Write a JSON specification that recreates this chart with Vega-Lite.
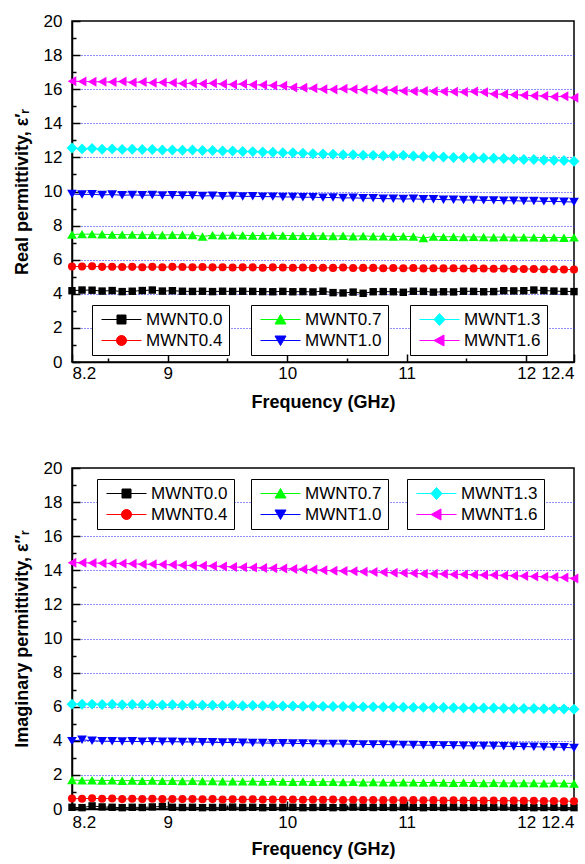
{
  "$schema": "https://vega.github.io/schema/vega-lite/v6.json",
  "padding": {"left": 12, "top": 11, "right": 0, "bottom": 0},
  "spacing": 46,
  "datasets": {
    "real": [
      {"s":"MWNT0.0","f":8.2,"v":4.18},{"s":"MWNT0.0","f":8.284,"v":4.22},{"s":"MWNT0.0","f":8.368,"v":4.21},{"s":"MWNT0.0","f":8.452,"v":4.16},{"s":"MWNT0.0","f":8.536,"v":4.19},{"s":"MWNT0.0","f":8.62,"v":4.13},{"s":"MWNT0.0","f":8.704,"v":4.15},{"s":"MWNT0.0","f":8.788,"v":4.19},{"s":"MWNT0.0","f":8.872,"v":4.22},{"s":"MWNT0.0","f":8.956,"v":4.16},
      {"s":"MWNT0.0","f":9.04,"v":4.18},{"s":"MWNT0.0","f":9.124,"v":4.15},{"s":"MWNT0.0","f":9.208,"v":4.14},{"s":"MWNT0.0","f":9.292,"v":4.15},{"s":"MWNT0.0","f":9.376,"v":4.13},{"s":"MWNT0.0","f":9.46,"v":4.15},{"s":"MWNT0.0","f":9.544,"v":4.14},{"s":"MWNT0.0","f":9.628,"v":4.15},{"s":"MWNT0.0","f":9.712,"v":4.14},{"s":"MWNT0.0","f":9.796,"v":4.13},
      {"s":"MWNT0.0","f":9.88,"v":4.12},{"s":"MWNT0.0","f":9.964,"v":4.14},{"s":"MWNT0.0","f":10.048,"v":4.12},{"s":"MWNT0.0","f":10.132,"v":4.13},{"s":"MWNT0.0","f":10.216,"v":4.11},{"s":"MWNT0.0","f":10.3,"v":4.15},{"s":"MWNT0.0","f":10.384,"v":4.07},{"s":"MWNT0.0","f":10.468,"v":4.05},{"s":"MWNT0.0","f":10.552,"v":4.1},{"s":"MWNT0.0","f":10.636,"v":4.03},
      {"s":"MWNT0.0","f":10.72,"v":4.12},{"s":"MWNT0.0","f":10.804,"v":4.13},{"s":"MWNT0.0","f":10.888,"v":4.12},{"s":"MWNT0.0","f":10.972,"v":4.09},{"s":"MWNT0.0","f":11.056,"v":4.15},{"s":"MWNT0.0","f":11.14,"v":4.14},{"s":"MWNT0.0","f":11.224,"v":4.1},{"s":"MWNT0.0","f":11.308,"v":4.12},{"s":"MWNT0.0","f":11.392,"v":4.11},{"s":"MWNT0.0","f":11.476,"v":4.15},
      {"s":"MWNT0.0","f":11.56,"v":4.14},{"s":"MWNT0.0","f":11.644,"v":4.12},{"s":"MWNT0.0","f":11.728,"v":4.13},{"s":"MWNT0.0","f":11.812,"v":4.18},{"s":"MWNT0.0","f":11.896,"v":4.17},{"s":"MWNT0.0","f":11.98,"v":4.18},{"s":"MWNT0.0","f":12.064,"v":4.22},{"s":"MWNT0.0","f":12.148,"v":4.19},{"s":"MWNT0.0","f":12.232,"v":4.16},{"s":"MWNT0.0","f":12.316,"v":4.14},{"s":"MWNT0.0","f":12.4,"v":4.13},

      {"s":"MWNT0.4","f":8.2,"v":5.6},{"s":"MWNT0.4","f":8.284,"v":5.6},{"s":"MWNT0.4","f":8.368,"v":5.62},{"s":"MWNT0.4","f":8.452,"v":5.58},{"s":"MWNT0.4","f":8.536,"v":5.59},{"s":"MWNT0.4","f":8.62,"v":5.57},{"s":"MWNT0.4","f":8.704,"v":5.58},{"s":"MWNT0.4","f":8.788,"v":5.56},{"s":"MWNT0.4","f":8.872,"v":5.58},{"s":"MWNT0.4","f":8.956,"v":5.56},
      {"s":"MWNT0.4","f":9.04,"v":5.58},{"s":"MWNT0.4","f":9.124,"v":5.57},{"s":"MWNT0.4","f":9.208,"v":5.56},{"s":"MWNT0.4","f":9.292,"v":5.57},{"s":"MWNT0.4","f":9.376,"v":5.55},{"s":"MWNT0.4","f":9.46,"v":5.56},{"s":"MWNT0.4","f":9.544,"v":5.54},{"s":"MWNT0.4","f":9.628,"v":5.55},{"s":"MWNT0.4","f":9.712,"v":5.55},{"s":"MWNT0.4","f":9.796,"v":5.53},
      {"s":"MWNT0.4","f":9.88,"v":5.55},{"s":"MWNT0.4","f":9.964,"v":5.54},{"s":"MWNT0.4","f":10.048,"v":5.53},{"s":"MWNT0.4","f":10.132,"v":5.54},{"s":"MWNT0.4","f":10.216,"v":5.52},{"s":"MWNT0.4","f":10.3,"v":5.53},{"s":"MWNT0.4","f":10.384,"v":5.52},{"s":"MWNT0.4","f":10.468,"v":5.54},{"s":"MWNT0.4","f":10.552,"v":5.51},{"s":"MWNT0.4","f":10.636,"v":5.52},
      {"s":"MWNT0.4","f":10.72,"v":5.52},{"s":"MWNT0.4","f":10.804,"v":5.5},{"s":"MWNT0.4","f":10.888,"v":5.51},{"s":"MWNT0.4","f":10.972,"v":5.5},{"s":"MWNT0.4","f":11.056,"v":5.51},{"s":"MWNT0.4","f":11.14,"v":5.49},{"s":"MWNT0.4","f":11.224,"v":5.5},{"s":"MWNT0.4","f":11.308,"v":5.49},{"s":"MWNT0.4","f":11.392,"v":5.5},{"s":"MWNT0.4","f":11.476,"v":5.48},
      {"s":"MWNT0.4","f":11.56,"v":5.49},{"s":"MWNT0.4","f":11.644,"v":5.48},{"s":"MWNT0.4","f":11.728,"v":5.47},{"s":"MWNT0.4","f":11.812,"v":5.48},{"s":"MWNT0.4","f":11.896,"v":5.46},{"s":"MWNT0.4","f":11.98,"v":5.46},{"s":"MWNT0.4","f":12.064,"v":5.45},{"s":"MWNT0.4","f":12.148,"v":5.44},{"s":"MWNT0.4","f":12.232,"v":5.44},{"s":"MWNT0.4","f":12.316,"v":5.43},{"s":"MWNT0.4","f":12.4,"v":5.42},

      {"s":"MWNT0.7","f":8.2,"v":7.48},{"s":"MWNT0.7","f":8.284,"v":7.5},{"s":"MWNT0.7","f":8.368,"v":7.5},{"s":"MWNT0.7","f":8.452,"v":7.49},{"s":"MWNT0.7","f":8.536,"v":7.47},{"s":"MWNT0.7","f":8.62,"v":7.47},{"s":"MWNT0.7","f":8.704,"v":7.47},{"s":"MWNT0.7","f":8.788,"v":7.46},{"s":"MWNT0.7","f":8.872,"v":7.46},{"s":"MWNT0.7","f":8.956,"v":7.45},
      {"s":"MWNT0.7","f":9.04,"v":7.46},{"s":"MWNT0.7","f":9.124,"v":7.46},{"s":"MWNT0.7","f":9.208,"v":7.45},{"s":"MWNT0.7","f":9.292,"v":7.36},{"s":"MWNT0.7","f":9.376,"v":7.44},{"s":"MWNT0.7","f":9.46,"v":7.43},{"s":"MWNT0.7","f":9.544,"v":7.44},{"s":"MWNT0.7","f":9.628,"v":7.43},{"s":"MWNT0.7","f":9.712,"v":7.42},{"s":"MWNT0.7","f":9.796,"v":7.42},
      {"s":"MWNT0.7","f":9.88,"v":7.43},{"s":"MWNT0.7","f":9.964,"v":7.42},{"s":"MWNT0.7","f":10.048,"v":7.41},{"s":"MWNT0.7","f":10.132,"v":7.41},{"s":"MWNT0.7","f":10.216,"v":7.4},{"s":"MWNT0.7","f":10.3,"v":7.4},{"s":"MWNT0.7","f":10.384,"v":7.39},{"s":"MWNT0.7","f":10.468,"v":7.4},{"s":"MWNT0.7","f":10.552,"v":7.38},{"s":"MWNT0.7","f":10.636,"v":7.39},
      {"s":"MWNT0.7","f":10.72,"v":7.37},{"s":"MWNT0.7","f":10.804,"v":7.38},{"s":"MWNT0.7","f":10.888,"v":7.36},{"s":"MWNT0.7","f":10.972,"v":7.37},{"s":"MWNT0.7","f":11.056,"v":7.36},{"s":"MWNT0.7","f":11.14,"v":7.27},{"s":"MWNT0.7","f":11.224,"v":7.36},{"s":"MWNT0.7","f":11.308,"v":7.34},{"s":"MWNT0.7","f":11.392,"v":7.35},{"s":"MWNT0.7","f":11.476,"v":7.33},
      {"s":"MWNT0.7","f":11.56,"v":7.34},{"s":"MWNT0.7","f":11.644,"v":7.33},{"s":"MWNT0.7","f":11.728,"v":7.32},{"s":"MWNT0.7","f":11.812,"v":7.33},{"s":"MWNT0.7","f":11.896,"v":7.32},{"s":"MWNT0.7","f":11.98,"v":7.32},{"s":"MWNT0.7","f":12.064,"v":7.31},{"s":"MWNT0.7","f":12.148,"v":7.3},{"s":"MWNT0.7","f":12.232,"v":7.31},{"s":"MWNT0.7","f":12.316,"v":7.29},{"s":"MWNT0.7","f":12.4,"v":7.31},

      {"s":"MWNT1.0","f":8.2,"v":9.85},{"s":"MWNT1.0","f":8.284,"v":9.82},{"s":"MWNT1.0","f":8.368,"v":9.84},{"s":"MWNT1.0","f":8.452,"v":9.8},{"s":"MWNT1.0","f":8.536,"v":9.82},{"s":"MWNT1.0","f":8.62,"v":9.78},{"s":"MWNT1.0","f":8.704,"v":9.8},{"s":"MWNT1.0","f":8.788,"v":9.78},{"s":"MWNT1.0","f":8.872,"v":9.79},{"s":"MWNT1.0","f":8.956,"v":9.77},
      {"s":"MWNT1.0","f":9.04,"v":9.78},{"s":"MWNT1.0","f":9.124,"v":9.76},{"s":"MWNT1.0","f":9.208,"v":9.77},{"s":"MWNT1.0","f":9.292,"v":9.74},{"s":"MWNT1.0","f":9.376,"v":9.75},{"s":"MWNT1.0","f":9.46,"v":9.72},{"s":"MWNT1.0","f":9.544,"v":9.74},{"s":"MWNT1.0","f":9.628,"v":9.71},{"s":"MWNT1.0","f":9.712,"v":9.72},{"s":"MWNT1.0","f":9.796,"v":9.7},
      {"s":"MWNT1.0","f":9.88,"v":9.7},{"s":"MWNT1.0","f":9.964,"v":9.68},{"s":"MWNT1.0","f":10.048,"v":9.68},{"s":"MWNT1.0","f":10.132,"v":9.66},{"s":"MWNT1.0","f":10.216,"v":9.67},{"s":"MWNT1.0","f":10.3,"v":9.64},{"s":"MWNT1.0","f":10.384,"v":9.65},{"s":"MWNT1.0","f":10.468,"v":9.62},{"s":"MWNT1.0","f":10.552,"v":9.63},{"s":"MWNT1.0","f":10.636,"v":9.6},
      {"s":"MWNT1.0","f":10.72,"v":9.61},{"s":"MWNT1.0","f":10.804,"v":9.58},{"s":"MWNT1.0","f":10.888,"v":9.58},{"s":"MWNT1.0","f":10.972,"v":9.56},{"s":"MWNT1.0","f":11.056,"v":9.57},{"s":"MWNT1.0","f":11.14,"v":9.54},{"s":"MWNT1.0","f":11.224,"v":9.55},{"s":"MWNT1.0","f":11.308,"v":9.52},{"s":"MWNT1.0","f":11.392,"v":9.52},{"s":"MWNT1.0","f":11.476,"v":9.5},
      {"s":"MWNT1.0","f":11.56,"v":9.5},{"s":"MWNT1.0","f":11.644,"v":9.48},{"s":"MWNT1.0","f":11.728,"v":9.48},{"s":"MWNT1.0","f":11.812,"v":9.46},{"s":"MWNT1.0","f":11.896,"v":9.46},{"s":"MWNT1.0","f":11.98,"v":9.44},{"s":"MWNT1.0","f":12.064,"v":9.44},{"s":"MWNT1.0","f":12.148,"v":9.42},{"s":"MWNT1.0","f":12.232,"v":9.42},{"s":"MWNT1.0","f":12.316,"v":9.4},{"s":"MWNT1.0","f":12.4,"v":9.38},

      {"s":"MWNT1.3","f":8.2,"v":12.55},{"s":"MWNT1.3","f":8.284,"v":12.5},{"s":"MWNT1.3","f":8.368,"v":12.52},{"s":"MWNT1.3","f":8.452,"v":12.48},{"s":"MWNT1.3","f":8.536,"v":12.5},{"s":"MWNT1.3","f":8.62,"v":12.47},{"s":"MWNT1.3","f":8.704,"v":12.48},{"s":"MWNT1.3","f":8.788,"v":12.46},{"s":"MWNT1.3","f":8.872,"v":12.46},{"s":"MWNT1.3","f":8.956,"v":12.44},
      {"s":"MWNT1.3","f":9.04,"v":12.44},{"s":"MWNT1.3","f":9.124,"v":12.42},{"s":"MWNT1.3","f":9.208,"v":12.43},{"s":"MWNT1.3","f":9.292,"v":12.4},{"s":"MWNT1.3","f":9.376,"v":12.4},{"s":"MWNT1.3","f":9.46,"v":12.37},{"s":"MWNT1.3","f":9.544,"v":12.38},{"s":"MWNT1.3","f":9.628,"v":12.35},{"s":"MWNT1.3","f":9.712,"v":12.34},{"s":"MWNT1.3","f":9.796,"v":12.32},
      {"s":"MWNT1.3","f":9.88,"v":12.3},{"s":"MWNT1.3","f":9.964,"v":12.28},{"s":"MWNT1.3","f":10.048,"v":12.27},{"s":"MWNT1.3","f":10.132,"v":12.25},{"s":"MWNT1.3","f":10.216,"v":12.22},{"s":"MWNT1.3","f":10.3,"v":12.2},{"s":"MWNT1.3","f":10.384,"v":12.18},{"s":"MWNT1.3","f":10.468,"v":12.16},{"s":"MWNT1.3","f":10.552,"v":12.16},{"s":"MWNT1.3","f":10.636,"v":12.13},
      {"s":"MWNT1.3","f":10.72,"v":12.12},{"s":"MWNT1.3","f":10.804,"v":12.1},{"s":"MWNT1.3","f":10.888,"v":12.1},{"s":"MWNT1.3","f":10.972,"v":12.12},{"s":"MWNT1.3","f":11.056,"v":12.08},{"s":"MWNT1.3","f":11.14,"v":12.05},{"s":"MWNT1.3","f":11.224,"v":12.05},{"s":"MWNT1.3","f":11.308,"v":12.02},{"s":"MWNT1.3","f":11.392,"v":12},{"s":"MWNT1.3","f":11.476,"v":12},
      {"s":"MWNT1.3","f":11.56,"v":11.98},{"s":"MWNT1.3","f":11.644,"v":11.96},{"s":"MWNT1.3","f":11.728,"v":11.95},{"s":"MWNT1.3","f":11.812,"v":11.93},{"s":"MWNT1.3","f":11.896,"v":11.9},{"s":"MWNT1.3","f":11.98,"v":11.88},{"s":"MWNT1.3","f":12.064,"v":11.88},{"s":"MWNT1.3","f":12.148,"v":11.85},{"s":"MWNT1.3","f":12.232,"v":11.83},{"s":"MWNT1.3","f":12.316,"v":11.82},{"s":"MWNT1.3","f":12.4,"v":11.78},

      {"s":"MWNT1.6","f":8.2,"v":16.47},{"s":"MWNT1.6","f":8.284,"v":16.45},{"s":"MWNT1.6","f":8.368,"v":16.44},{"s":"MWNT1.6","f":8.452,"v":16.43},{"s":"MWNT1.6","f":8.536,"v":16.42},{"s":"MWNT1.6","f":8.62,"v":16.45},{"s":"MWNT1.6","f":8.704,"v":16.4},{"s":"MWNT1.6","f":8.788,"v":16.42},{"s":"MWNT1.6","f":8.872,"v":16.38},{"s":"MWNT1.6","f":8.956,"v":16.4},
      {"s":"MWNT1.6","f":9.04,"v":16.38},{"s":"MWNT1.6","f":9.124,"v":16.33},{"s":"MWNT1.6","f":9.208,"v":16.35},{"s":"MWNT1.6","f":9.292,"v":16.32},{"s":"MWNT1.6","f":9.376,"v":16.35},{"s":"MWNT1.6","f":9.46,"v":16.3},{"s":"MWNT1.6","f":9.544,"v":16.28},{"s":"MWNT1.6","f":9.628,"v":16.3},{"s":"MWNT1.6","f":9.712,"v":16.26},{"s":"MWNT1.6","f":9.796,"v":16.25},
      {"s":"MWNT1.6","f":9.88,"v":16.22},{"s":"MWNT1.6","f":9.964,"v":16.2},{"s":"MWNT1.6","f":10.048,"v":16.1},{"s":"MWNT1.6","f":10.132,"v":16.08},{"s":"MWNT1.6","f":10.216,"v":16.05},{"s":"MWNT1.6","f":10.3,"v":16},{"s":"MWNT1.6","f":10.384,"v":15.98},{"s":"MWNT1.6","f":10.468,"v":16.02},{"s":"MWNT1.6","f":10.552,"v":16},{"s":"MWNT1.6","f":10.636,"v":15.97},
      {"s":"MWNT1.6","f":10.72,"v":15.98},{"s":"MWNT1.6","f":10.804,"v":15.93},{"s":"MWNT1.6","f":10.888,"v":15.95},{"s":"MWNT1.6","f":10.972,"v":15.9},{"s":"MWNT1.6","f":11.056,"v":15.88},{"s":"MWNT1.6","f":11.14,"v":15.9},{"s":"MWNT1.6","f":11.224,"v":15.88},{"s":"MWNT1.6","f":11.308,"v":15.86},{"s":"MWNT1.6","f":11.392,"v":15.85},{"s":"MWNT1.6","f":11.476,"v":15.84},
      {"s":"MWNT1.6","f":11.56,"v":15.86},{"s":"MWNT1.6","f":11.644,"v":15.82},{"s":"MWNT1.6","f":11.728,"v":15.72},{"s":"MWNT1.6","f":11.812,"v":15.7},{"s":"MWNT1.6","f":11.896,"v":15.68},{"s":"MWNT1.6","f":11.98,"v":15.65},{"s":"MWNT1.6","f":12.064,"v":15.62},{"s":"MWNT1.6","f":12.148,"v":15.6},{"s":"MWNT1.6","f":12.232,"v":15.55},{"s":"MWNT1.6","f":12.316,"v":15.58},{"s":"MWNT1.6","f":12.4,"v":15.5}
    ],
    "imag": [
      {"s":"MWNT0.0","f":8.2,"v":0.1},{"s":"MWNT0.0","f":8.284,"v":0.08},{"s":"MWNT0.0","f":8.368,"v":0.18},{"s":"MWNT0.0","f":8.452,"v":0.12},{"s":"MWNT0.0","f":8.536,"v":0.1},{"s":"MWNT0.0","f":8.62,"v":0.08},{"s":"MWNT0.0","f":8.704,"v":0.1},{"s":"MWNT0.0","f":8.788,"v":0.09},{"s":"MWNT0.0","f":8.872,"v":0.12},{"s":"MWNT0.0","f":8.956,"v":0.15},
      {"s":"MWNT0.0","f":9.04,"v":0.1},{"s":"MWNT0.0","f":9.124,"v":0.09},{"s":"MWNT0.0","f":9.208,"v":0.1},{"s":"MWNT0.0","f":9.292,"v":0.08},{"s":"MWNT0.0","f":9.376,"v":0.09},{"s":"MWNT0.0","f":9.46,"v":0.1},{"s":"MWNT0.0","f":9.544,"v":0.11},{"s":"MWNT0.0","f":9.628,"v":0.09},{"s":"MWNT0.0","f":9.712,"v":0.1},{"s":"MWNT0.0","f":9.796,"v":0.08},
      {"s":"MWNT0.0","f":9.88,"v":0.1},{"s":"MWNT0.0","f":9.964,"v":0.09},{"s":"MWNT0.0","f":10.048,"v":0.1},{"s":"MWNT0.0","f":10.132,"v":0.08},{"s":"MWNT0.0","f":10.216,"v":0.09},{"s":"MWNT0.0","f":10.3,"v":0.1},{"s":"MWNT0.0","f":10.384,"v":0.08},{"s":"MWNT0.0","f":10.468,"v":0.09},{"s":"MWNT0.0","f":10.552,"v":0.11},{"s":"MWNT0.0","f":10.636,"v":0.1},
      {"s":"MWNT0.0","f":10.72,"v":0.09},{"s":"MWNT0.0","f":10.804,"v":0.1},{"s":"MWNT0.0","f":10.888,"v":0.09},{"s":"MWNT0.0","f":10.972,"v":0.11},{"s":"MWNT0.0","f":11.056,"v":0.1},{"s":"MWNT0.0","f":11.14,"v":0.08},{"s":"MWNT0.0","f":11.224,"v":0.1},{"s":"MWNT0.0","f":11.308,"v":0.09},{"s":"MWNT0.0","f":11.392,"v":0.11},{"s":"MWNT0.0","f":11.476,"v":0.09},
      {"s":"MWNT0.0","f":11.56,"v":0.1},{"s":"MWNT0.0","f":11.644,"v":0.09},{"s":"MWNT0.0","f":11.728,"v":0.1},{"s":"MWNT0.0","f":11.812,"v":0.11},{"s":"MWNT0.0","f":11.896,"v":0.09},{"s":"MWNT0.0","f":11.98,"v":0.1},{"s":"MWNT0.0","f":12.064,"v":0.08},{"s":"MWNT0.0","f":12.148,"v":0.09},{"s":"MWNT0.0","f":12.232,"v":0.1},{"s":"MWNT0.0","f":12.316,"v":0.09},{"s":"MWNT0.0","f":12.4,"v":0.08},

      {"s":"MWNT0.4","f":8.2,"v":0.62},{"s":"MWNT0.4","f":8.284,"v":0.6},{"s":"MWNT0.4","f":8.368,"v":0.63},{"s":"MWNT0.4","f":8.452,"v":0.6},{"s":"MWNT0.4","f":8.536,"v":0.62},{"s":"MWNT0.4","f":8.62,"v":0.58},{"s":"MWNT0.4","f":8.704,"v":0.6},{"s":"MWNT0.4","f":8.788,"v":0.59},{"s":"MWNT0.4","f":8.872,"v":0.6},{"s":"MWNT0.4","f":8.956,"v":0.58},
      {"s":"MWNT0.4","f":9.04,"v":0.59},{"s":"MWNT0.4","f":9.124,"v":0.58},{"s":"MWNT0.4","f":9.208,"v":0.59},{"s":"MWNT0.4","f":9.292,"v":0.57},{"s":"MWNT0.4","f":9.376,"v":0.58},{"s":"MWNT0.4","f":9.46,"v":0.56},{"s":"MWNT0.4","f":9.544,"v":0.57},{"s":"MWNT0.4","f":9.628,"v":0.56},{"s":"MWNT0.4","f":9.712,"v":0.57},{"s":"MWNT0.4","f":9.796,"v":0.55},
      {"s":"MWNT0.4","f":9.88,"v":0.56},{"s":"MWNT0.4","f":9.964,"v":0.55},{"s":"MWNT0.4","f":10.048,"v":0.56},{"s":"MWNT0.4","f":10.132,"v":0.54},{"s":"MWNT0.4","f":10.216,"v":0.55},{"s":"MWNT0.4","f":10.3,"v":0.54},{"s":"MWNT0.4","f":10.384,"v":0.55},{"s":"MWNT0.4","f":10.468,"v":0.53},{"s":"MWNT0.4","f":10.552,"v":0.54},{"s":"MWNT0.4","f":10.636,"v":0.53},
      {"s":"MWNT0.4","f":10.72,"v":0.53},{"s":"MWNT0.4","f":10.804,"v":0.52},{"s":"MWNT0.4","f":10.888,"v":0.53},{"s":"MWNT0.4","f":10.972,"v":0.51},{"s":"MWNT0.4","f":11.056,"v":0.52},{"s":"MWNT0.4","f":11.14,"v":0.51},{"s":"MWNT0.4","f":11.224,"v":0.52},{"s":"MWNT0.4","f":11.308,"v":0.5},{"s":"MWNT0.4","f":11.392,"v":0.51},{"s":"MWNT0.4","f":11.476,"v":0.5},
      {"s":"MWNT0.4","f":11.56,"v":0.5},{"s":"MWNT0.4","f":11.644,"v":0.49},{"s":"MWNT0.4","f":11.728,"v":0.5},{"s":"MWNT0.4","f":11.812,"v":0.48},{"s":"MWNT0.4","f":11.896,"v":0.49},{"s":"MWNT0.4","f":11.98,"v":0.48},{"s":"MWNT0.4","f":12.064,"v":0.48},{"s":"MWNT0.4","f":12.148,"v":0.47},{"s":"MWNT0.4","f":12.232,"v":0.47},{"s":"MWNT0.4","f":12.316,"v":0.46},{"s":"MWNT0.4","f":12.4,"v":0.46},

      {"s":"MWNT0.7","f":8.2,"v":1.7},{"s":"MWNT0.7","f":8.284,"v":1.68},{"s":"MWNT0.7","f":8.368,"v":1.69},{"s":"MWNT0.7","f":8.452,"v":1.67},{"s":"MWNT0.7","f":8.536,"v":1.68},{"s":"MWNT0.7","f":8.62,"v":1.66},{"s":"MWNT0.7","f":8.704,"v":1.67},{"s":"MWNT0.7","f":8.788,"v":1.66},{"s":"MWNT0.7","f":8.872,"v":1.67},{"s":"MWNT0.7","f":8.956,"v":1.65},
      {"s":"MWNT0.7","f":9.04,"v":1.66},{"s":"MWNT0.7","f":9.124,"v":1.64},{"s":"MWNT0.7","f":9.208,"v":1.65},{"s":"MWNT0.7","f":9.292,"v":1.64},{"s":"MWNT0.7","f":9.376,"v":1.64},{"s":"MWNT0.7","f":9.46,"v":1.63},{"s":"MWNT0.7","f":9.544,"v":1.63},{"s":"MWNT0.7","f":9.628,"v":1.62},{"s":"MWNT0.7","f":9.712,"v":1.63},{"s":"MWNT0.7","f":9.796,"v":1.61},
      {"s":"MWNT0.7","f":9.88,"v":1.62},{"s":"MWNT0.7","f":9.964,"v":1.61},{"s":"MWNT0.7","f":10.048,"v":1.6},{"s":"MWNT0.7","f":10.132,"v":1.61},{"s":"MWNT0.7","f":10.216,"v":1.59},{"s":"MWNT0.7","f":10.3,"v":1.6},{"s":"MWNT0.7","f":10.384,"v":1.59},{"s":"MWNT0.7","f":10.468,"v":1.58},{"s":"MWNT0.7","f":10.552,"v":1.59},{"s":"MWNT0.7","f":10.636,"v":1.57},
      {"s":"MWNT0.7","f":10.72,"v":1.58},{"s":"MWNT0.7","f":10.804,"v":1.57},{"s":"MWNT0.7","f":10.888,"v":1.56},{"s":"MWNT0.7","f":10.972,"v":1.57},{"s":"MWNT0.7","f":11.056,"v":1.56},{"s":"MWNT0.7","f":11.14,"v":1.55},{"s":"MWNT0.7","f":11.224,"v":1.56},{"s":"MWNT0.7","f":11.308,"v":1.55},{"s":"MWNT0.7","f":11.392,"v":1.54},{"s":"MWNT0.7","f":11.476,"v":1.55},
      {"s":"MWNT0.7","f":11.56,"v":1.54},{"s":"MWNT0.7","f":11.644,"v":1.53},{"s":"MWNT0.7","f":11.728,"v":1.54},{"s":"MWNT0.7","f":11.812,"v":1.53},{"s":"MWNT0.7","f":11.896,"v":1.52},{"s":"MWNT0.7","f":11.98,"v":1.53},{"s":"MWNT0.7","f":12.064,"v":1.52},{"s":"MWNT0.7","f":12.148,"v":1.51},{"s":"MWNT0.7","f":12.232,"v":1.52},{"s":"MWNT0.7","f":12.316,"v":1.51},{"s":"MWNT0.7","f":12.4,"v":1.5},

      {"s":"MWNT1.0","f":8.2,"v":3.98},{"s":"MWNT1.0","f":8.284,"v":4.06},{"s":"MWNT1.0","f":8.368,"v":4},{"s":"MWNT1.0","f":8.452,"v":3.98},{"s":"MWNT1.0","f":8.536,"v":3.97},{"s":"MWNT1.0","f":8.62,"v":3.96},{"s":"MWNT1.0","f":8.704,"v":3.97},{"s":"MWNT1.0","f":8.788,"v":3.95},{"s":"MWNT1.0","f":8.872,"v":3.96},{"s":"MWNT1.0","f":8.956,"v":3.94},
      {"s":"MWNT1.0","f":9.04,"v":3.95},{"s":"MWNT1.0","f":9.124,"v":3.93},{"s":"MWNT1.0","f":9.208,"v":3.93},{"s":"MWNT1.0","f":9.292,"v":3.92},{"s":"MWNT1.0","f":9.376,"v":3.91},{"s":"MWNT1.0","f":9.46,"v":3.9},{"s":"MWNT1.0","f":9.544,"v":3.9},{"s":"MWNT1.0","f":9.628,"v":3.89},{"s":"MWNT1.0","f":9.712,"v":3.88},{"s":"MWNT1.0","f":9.796,"v":3.87},
      {"s":"MWNT1.0","f":9.88,"v":3.86},{"s":"MWNT1.0","f":9.964,"v":3.86},{"s":"MWNT1.0","f":10.048,"v":3.85},{"s":"MWNT1.0","f":10.132,"v":3.84},{"s":"MWNT1.0","f":10.216,"v":3.83},{"s":"MWNT1.0","f":10.3,"v":3.82},{"s":"MWNT1.0","f":10.384,"v":3.82},{"s":"MWNT1.0","f":10.468,"v":3.81},{"s":"MWNT1.0","f":10.552,"v":3.8},{"s":"MWNT1.0","f":10.636,"v":3.79},
      {"s":"MWNT1.0","f":10.72,"v":3.78},{"s":"MWNT1.0","f":10.804,"v":3.78},{"s":"MWNT1.0","f":10.888,"v":3.77},{"s":"MWNT1.0","f":10.972,"v":3.76},{"s":"MWNT1.0","f":11.056,"v":3.75},{"s":"MWNT1.0","f":11.14,"v":3.74},{"s":"MWNT1.0","f":11.224,"v":3.74},{"s":"MWNT1.0","f":11.308,"v":3.73},{"s":"MWNT1.0","f":11.392,"v":3.72},{"s":"MWNT1.0","f":11.476,"v":3.71},
      {"s":"MWNT1.0","f":11.56,"v":3.7},{"s":"MWNT1.0","f":11.644,"v":3.7},{"s":"MWNT1.0","f":11.728,"v":3.69},{"s":"MWNT1.0","f":11.812,"v":3.68},{"s":"MWNT1.0","f":11.896,"v":3.67},{"s":"MWNT1.0","f":11.98,"v":3.66},{"s":"MWNT1.0","f":12.064,"v":3.65},{"s":"MWNT1.0","f":12.148,"v":3.64},{"s":"MWNT1.0","f":12.232,"v":3.63},{"s":"MWNT1.0","f":12.316,"v":3.62},{"s":"MWNT1.0","f":12.4,"v":3.58},

      {"s":"MWNT1.3","f":8.2,"v":6.15},{"s":"MWNT1.3","f":8.284,"v":6.14},{"s":"MWNT1.3","f":8.368,"v":6.15},{"s":"MWNT1.3","f":8.452,"v":6.13},{"s":"MWNT1.3","f":8.536,"v":6.14},{"s":"MWNT1.3","f":8.62,"v":6.12},{"s":"MWNT1.3","f":8.704,"v":6.13},{"s":"MWNT1.3","f":8.788,"v":6.11},{"s":"MWNT1.3","f":8.872,"v":6.12},{"s":"MWNT1.3","f":8.956,"v":6.1},
      {"s":"MWNT1.3","f":9.04,"v":6.11},{"s":"MWNT1.3","f":9.124,"v":6.09},{"s":"MWNT1.3","f":9.208,"v":6.1},{"s":"MWNT1.3","f":9.292,"v":6.08},{"s":"MWNT1.3","f":9.376,"v":6.09},{"s":"MWNT1.3","f":9.46,"v":6.07},{"s":"MWNT1.3","f":9.544,"v":6.08},{"s":"MWNT1.3","f":9.628,"v":6.06},{"s":"MWNT1.3","f":9.712,"v":6.07},{"s":"MWNT1.3","f":9.796,"v":6.05},
      {"s":"MWNT1.3","f":9.88,"v":6.05},{"s":"MWNT1.3","f":9.964,"v":6.04},{"s":"MWNT1.3","f":10.048,"v":6.04},{"s":"MWNT1.3","f":10.132,"v":6.03},{"s":"MWNT1.3","f":10.216,"v":6.03},{"s":"MWNT1.3","f":10.3,"v":6.02},{"s":"MWNT1.3","f":10.384,"v":6.01},{"s":"MWNT1.3","f":10.468,"v":6.01},{"s":"MWNT1.3","f":10.552,"v":6},{"s":"MWNT1.3","f":10.636,"v":5.99},
      {"s":"MWNT1.3","f":10.72,"v":5.99},{"s":"MWNT1.3","f":10.804,"v":5.98},{"s":"MWNT1.3","f":10.888,"v":5.98},{"s":"MWNT1.3","f":10.972,"v":5.97},{"s":"MWNT1.3","f":11.056,"v":5.96},{"s":"MWNT1.3","f":11.14,"v":5.96},{"s":"MWNT1.3","f":11.224,"v":5.95},{"s":"MWNT1.3","f":11.308,"v":5.95},{"s":"MWNT1.3","f":11.392,"v":5.94},{"s":"MWNT1.3","f":11.476,"v":5.93},
      {"s":"MWNT1.3","f":11.56,"v":5.93},{"s":"MWNT1.3","f":11.644,"v":5.92},{"s":"MWNT1.3","f":11.728,"v":5.92},{"s":"MWNT1.3","f":11.812,"v":5.91},{"s":"MWNT1.3","f":11.896,"v":5.9},{"s":"MWNT1.3","f":11.98,"v":5.9},{"s":"MWNT1.3","f":12.064,"v":5.89},{"s":"MWNT1.3","f":12.148,"v":5.88},{"s":"MWNT1.3","f":12.232,"v":5.88},{"s":"MWNT1.3","f":12.316,"v":5.87},{"s":"MWNT1.3","f":12.4,"v":5.85},

      {"s":"MWNT1.6","f":8.2,"v":14.45},{"s":"MWNT1.6","f":8.284,"v":14.44},{"s":"MWNT1.6","f":8.368,"v":14.43},{"s":"MWNT1.6","f":8.452,"v":14.42},{"s":"MWNT1.6","f":8.536,"v":14.4},{"s":"MWNT1.6","f":8.62,"v":14.4},{"s":"MWNT1.6","f":8.704,"v":14.38},{"s":"MWNT1.6","f":8.788,"v":14.36},{"s":"MWNT1.6","f":8.872,"v":14.35},{"s":"MWNT1.6","f":8.956,"v":14.34},
      {"s":"MWNT1.6","f":9.04,"v":14.32},{"s":"MWNT1.6","f":9.124,"v":14.3},{"s":"MWNT1.6","f":9.208,"v":14.28},{"s":"MWNT1.6","f":9.292,"v":14.27},{"s":"MWNT1.6","f":9.376,"v":14.25},{"s":"MWNT1.6","f":9.46,"v":14.23},{"s":"MWNT1.6","f":9.544,"v":14.2},{"s":"MWNT1.6","f":9.628,"v":14.18},{"s":"MWNT1.6","f":9.712,"v":14.16},{"s":"MWNT1.6","f":9.796,"v":14.14},
      {"s":"MWNT1.6","f":9.88,"v":14.12},{"s":"MWNT1.6","f":9.964,"v":14.1},{"s":"MWNT1.6","f":10.048,"v":14.08},{"s":"MWNT1.6","f":10.132,"v":14.06},{"s":"MWNT1.6","f":10.216,"v":14.04},{"s":"MWNT1.6","f":10.3,"v":14},{"s":"MWNT1.6","f":10.384,"v":13.98},{"s":"MWNT1.6","f":10.468,"v":13.96},{"s":"MWNT1.6","f":10.552,"v":13.94},{"s":"MWNT1.6","f":10.636,"v":13.92},
      {"s":"MWNT1.6","f":10.72,"v":13.9},{"s":"MWNT1.6","f":10.804,"v":13.88},{"s":"MWNT1.6","f":10.888,"v":13.86},{"s":"MWNT1.6","f":10.972,"v":13.84},{"s":"MWNT1.6","f":11.056,"v":13.82},{"s":"MWNT1.6","f":11.14,"v":13.8},{"s":"MWNT1.6","f":11.224,"v":13.8},{"s":"MWNT1.6","f":11.308,"v":13.78},{"s":"MWNT1.6","f":11.392,"v":13.76},{"s":"MWNT1.6","f":11.476,"v":13.76},
      {"s":"MWNT1.6","f":11.56,"v":13.74},{"s":"MWNT1.6","f":11.644,"v":13.72},{"s":"MWNT1.6","f":11.728,"v":13.72},{"s":"MWNT1.6","f":11.812,"v":13.7},{"s":"MWNT1.6","f":11.896,"v":13.68},{"s":"MWNT1.6","f":11.98,"v":13.66},{"s":"MWNT1.6","f":12.064,"v":13.64},{"s":"MWNT1.6","f":12.148,"v":13.62},{"s":"MWNT1.6","f":12.232,"v":13.6},{"s":"MWNT1.6","f":12.316,"v":13.58},{"s":"MWNT1.6","f":12.4,"v":13.52}
    ]
  },
  "vconcat": [
    {
      "width": 502,
      "height": 341,
      "data": {"name": "real"},
      "encoding": {
        "x": {
          "field": "f", "type": "quantitative",
          "scale": {"domain": [8.2, 12.4], "nice": false, "zero": false},
          "axis": {
            "title": "Frequency (GHz)",
            "values": [8.2, 8.5, 9, 9.5, 10, 10.5, 11, 11.5, 12, 12.4],
            "labelExpr": "(datum.value == 8.5 || datum.value == 9.5 || datum.value == 10.5 || datum.value == 11.5) ? '' : toString(datum.value)",
            "tickSize": {"condition": {"test": "datum.value == 8.5 || datum.value == 9.5 || datum.value == 10.5 || datum.value == 11.5", "value": -4}, "value": -8},
            "labelPadding": 11, "titlePadding": 12, "grid": false
          }
        },
        "y": {
          "field": "v", "type": "quantitative",
          "scale": {"domain": [0, 20], "nice": false, "zero": false},
          "axis": {
            "title": "Real permittivity, ε′ᵣ",
            "values": [0,1,2,3,4,5,6,7,8,9,10,11,12,13,14,15,16,17,18,19,20],
            "labelExpr": "datum.value % 2 == 1 ? '' : datum.label",
            "tickSize": {"condition": {"test": "datum.value % 2 == 1", "value": -4}, "value": -8},
            "grid": true,
            "gridColor": "#2020ff",
            "gridDash": [1, 2],
            "gridWidth": 1,
            "gridOpacity": {"condition": {"test": "datum.value % 2 == 1 || datum.value == 0 || datum.value == 20", "value": 0}, "value": 1},
            "labelPadding": 18, "titlePadding": 12
          }
        }
      },
      "layer": [
        {
          "transform": [{"filter": {"field": "s", "oneOf": ["MWNT0.0", "MWNT0.4"]}}],
          "encoding": {
            "color": {
              "field": "s", "type": "nominal",
              "scale": {"domain": ["MWNT0.0", "MWNT0.4"], "range": ["#000000", "#ff0000"]},
              "legend": {
                "orient": "none", "legendX": 20, "legendY": 284,
                "encode": {"symbols": {"update": {
                  "shape": {"signal": "datum.label == 'MWNT0.0' ? 'M-4,0H4M-0.9,-0.9H0.9V0.9H-0.9Z' : 'M-4,0H4M1,0A1,1,0,1,1,-1,0A1,1,0,1,1,1,0Z'"},
                  "fill": {"signal": "datum.label == 'MWNT0.0' ? '#000000' : '#ff0000'"},
                  "stroke": {"signal": "datum.label == 'MWNT0.0' ? '#000000' : '#ff0000'"},
                  "size": {"value": 100}, "strokeWidth": {"value": 1}, "opacity": {"value": 1}
                }}}
              }
            }
          },
          "layer": [
            {"mark": {"type": "line", "strokeWidth": 1}},
            {"transform": [{"filter": {"field": "s", "equal": "MWNT0.0"}}], "mark": {"type": "point", "shape": "square", "filled": true, "size": 55, "opacity": 1}},
            {"transform": [{"filter": {"field": "s", "equal": "MWNT0.4"}}], "mark": {"type": "point", "shape": "circle", "filled": true, "size": 65, "opacity": 1}}
          ]
        },
        {
          "transform": [{"filter": {"field": "s", "oneOf": ["MWNT0.7", "MWNT1.0"]}}],
          "encoding": {
            "color": {
              "field": "s", "type": "nominal",
              "scale": {"domain": ["MWNT0.7", "MWNT1.0"], "range": ["#00ff00", "#0000ff"]},
              "legend": {
                "orient": "none", "legendX": 179, "legendY": 284,
                "encode": {"symbols": {"update": {
                  "shape": {"signal": "datum.label == 'MWNT0.7' ? 'M-4,0H4M0,-1L1.1,0.9H-1.1Z' : 'M-4,0H4M0,1L1.1,-0.9H-1.1Z'"},
                  "fill": {"signal": "datum.label == 'MWNT0.7' ? '#00ff00' : '#0000ff'"},
                  "stroke": {"signal": "datum.label == 'MWNT0.7' ? '#00ff00' : '#0000ff'"},
                  "size": {"value": 100}, "strokeWidth": {"value": 1}, "opacity": {"value": 1}
                }}}
              }
            }
          },
          "layer": [
            {"mark": {"type": "line", "strokeWidth": 1}},
            {"transform": [{"filter": {"field": "s", "equal": "MWNT0.7"}}], "mark": {"type": "point", "shape": "triangle-up", "filled": true, "size": 95, "opacity": 1}},
            {"transform": [{"filter": {"field": "s", "equal": "MWNT1.0"}}], "mark": {"type": "point", "shape": "triangle-down", "filled": true, "size": 95, "opacity": 1}}
          ]
        },
        {
          "transform": [{"filter": {"field": "s", "oneOf": ["MWNT1.3", "MWNT1.6"]}}],
          "encoding": {
            "color": {
              "field": "s", "type": "nominal",
              "scale": {"domain": ["MWNT1.3", "MWNT1.6"], "range": ["#00ffff", "#ff00ff"]},
              "legend": {
                "orient": "none", "legendX": 338, "legendY": 284,
                "encode": {"symbols": {"update": {
                  "shape": {"signal": "datum.label == 'MWNT1.3' ? 'M-4,0H4M0,-1.2L1.1,0L0,1.2L-1.1,0Z' : 'M-4,0H4M-1.1,0L0.9,-1.1V1.1Z'"},
                  "fill": {"signal": "datum.label == 'MWNT1.3' ? '#00ffff' : '#ff00ff'"},
                  "stroke": {"signal": "datum.label == 'MWNT1.3' ? '#00ffff' : '#ff00ff'"},
                  "size": {"value": 100}, "strokeWidth": {"value": 1}, "opacity": {"value": 1}
                }}}
              }
            }
          },
          "layer": [
            {"mark": {"type": "line", "strokeWidth": 1}},
            {"transform": [{"filter": {"field": "s", "equal": "MWNT1.3"}}], "mark": {"type": "point", "shape": "diamond", "filled": true, "size": 120, "opacity": 1}},
            {"transform": [{"filter": {"field": "s", "equal": "MWNT1.6"}}], "mark": {"type": "point", "shape": "triangle-left", "filled": true, "size": 100, "opacity": 1}}
          ]
        }
      ],
      "resolve": {"scale": {"color": "independent"}}
    },
    {
      "width": 502,
      "height": 341,
      "data": {"name": "imag"},
      "encoding": {
        "x": {
          "field": "f", "type": "quantitative",
          "scale": {"domain": [8.2, 12.4], "nice": false, "zero": false},
          "axis": {
            "title": "Frequency (GHz)",
            "values": [8.2, 8.5, 9, 9.5, 10, 10.5, 11, 11.5, 12, 12.4],
            "labelExpr": "(datum.value == 8.5 || datum.value == 9.5 || datum.value == 10.5 || datum.value == 11.5) ? '' : toString(datum.value)",
            "tickSize": {"condition": {"test": "datum.value == 8.5 || datum.value == 9.5 || datum.value == 10.5 || datum.value == 11.5", "value": -4}, "value": -8},
            "labelPadding": 13, "titlePadding": 10, "grid": false
          }
        },
        "y": {
          "field": "v", "type": "quantitative",
          "scale": {"domain": [0, 20], "nice": false, "zero": false},
          "axis": {
            "title": "Imaginary permittivity, ε″ᵣ",
            "values": [0,1,2,3,4,5,6,7,8,9,10,11,12,13,14,15,16,17,18,19,20],
            "labelExpr": "datum.value % 2 == 1 ? '' : datum.label",
            "tickSize": {"condition": {"test": "datum.value % 2 == 1", "value": -4}, "value": -8},
            "grid": true,
            "gridColor": "#2020ff",
            "gridDash": [1, 2],
            "gridWidth": 1,
            "gridOpacity": {"condition": {"test": "datum.value % 2 == 1 || datum.value == 0 || datum.value == 20", "value": 0}, "value": 1},
            "labelPadding": 18, "titlePadding": 12
          }
        }
      },
      "layer": [
        {
          "transform": [{"filter": {"field": "s", "oneOf": ["MWNT0.0", "MWNT0.4"]}}],
          "encoding": {
            "color": {
              "field": "s", "type": "nominal",
              "scale": {"domain": ["MWNT0.0", "MWNT0.4"], "range": ["#000000", "#ff0000"]},
              "legend": {
                "orient": "none", "legendX": 25, "legendY": 11,
                "encode": {"symbols": {"update": {
                  "shape": {"signal": "datum.label == 'MWNT0.0' ? 'M-4,0H4M-0.9,-0.9H0.9V0.9H-0.9Z' : 'M-4,0H4M1,0A1,1,0,1,1,-1,0A1,1,0,1,1,1,0Z'"},
                  "fill": {"signal": "datum.label == 'MWNT0.0' ? '#000000' : '#ff0000'"},
                  "stroke": {"signal": "datum.label == 'MWNT0.0' ? '#000000' : '#ff0000'"},
                  "size": {"value": 100}, "strokeWidth": {"value": 1}, "opacity": {"value": 1}
                }}}
              }
            }
          },
          "layer": [
            {"mark": {"type": "line", "strokeWidth": 1}},
            {"transform": [{"filter": {"field": "s", "equal": "MWNT0.0"}}], "mark": {"type": "point", "shape": "square", "filled": true, "size": 55, "opacity": 1}},
            {"transform": [{"filter": {"field": "s", "equal": "MWNT0.4"}}], "mark": {"type": "point", "shape": "circle", "filled": true, "size": 65, "opacity": 1}}
          ]
        },
        {
          "transform": [{"filter": {"field": "s", "oneOf": ["MWNT0.7", "MWNT1.0"]}}],
          "encoding": {
            "color": {
              "field": "s", "type": "nominal",
              "scale": {"domain": ["MWNT0.7", "MWNT1.0"], "range": ["#00ff00", "#0000ff"]},
              "legend": {
                "orient": "none", "legendX": 179, "legendY": 11,
                "encode": {"symbols": {"update": {
                  "shape": {"signal": "datum.label == 'MWNT0.7' ? 'M-4,0H4M0,-1L1.1,0.9H-1.1Z' : 'M-4,0H4M0,1L1.1,-0.9H-1.1Z'"},
                  "fill": {"signal": "datum.label == 'MWNT0.7' ? '#00ff00' : '#0000ff'"},
                  "stroke": {"signal": "datum.label == 'MWNT0.7' ? '#00ff00' : '#0000ff'"},
                  "size": {"value": 100}, "strokeWidth": {"value": 1}, "opacity": {"value": 1}
                }}}
              }
            }
          },
          "layer": [
            {"mark": {"type": "line", "strokeWidth": 1}},
            {"transform": [{"filter": {"field": "s", "equal": "MWNT0.7"}}], "mark": {"type": "point", "shape": "triangle-up", "filled": true, "size": 95, "opacity": 1}},
            {"transform": [{"filter": {"field": "s", "equal": "MWNT1.0"}}], "mark": {"type": "point", "shape": "triangle-down", "filled": true, "size": 95, "opacity": 1}}
          ]
        },
        {
          "transform": [{"filter": {"field": "s", "oneOf": ["MWNT1.3", "MWNT1.6"]}}],
          "encoding": {
            "color": {
              "field": "s", "type": "nominal",
              "scale": {"domain": ["MWNT1.3", "MWNT1.6"], "range": ["#00ffff", "#ff00ff"]},
              "legend": {
                "orient": "none", "legendX": 335, "legendY": 11,
                "encode": {"symbols": {"update": {
                  "shape": {"signal": "datum.label == 'MWNT1.3' ? 'M-4,0H4M0,-1.2L1.1,0L0,1.2L-1.1,0Z' : 'M-4,0H4M-1.1,0L0.9,-1.1V1.1Z'"},
                  "fill": {"signal": "datum.label == 'MWNT1.3' ? '#00ffff' : '#ff00ff'"},
                  "stroke": {"signal": "datum.label == 'MWNT1.3' ? '#00ffff' : '#ff00ff'"},
                  "size": {"value": 100}, "strokeWidth": {"value": 1}, "opacity": {"value": 1}
                }}}
              }
            }
          },
          "layer": [
            {"mark": {"type": "line", "strokeWidth": 1}},
            {"transform": [{"filter": {"field": "s", "equal": "MWNT1.3"}}], "mark": {"type": "point", "shape": "diamond", "filled": true, "size": 120, "opacity": 1}},
            {"transform": [{"filter": {"field": "s", "equal": "MWNT1.6"}}], "mark": {"type": "point", "shape": "triangle-left", "filled": true, "size": 100, "opacity": 1}}
          ]
        }
      ],
      "resolve": {"scale": {"color": "independent"}}
    }
  ],
  "config": {
    "view": {"stroke": "#000000", "strokeWidth": 1.5},
    "axis": {
      "labelFont": "Liberation Sans", "labelFontSize": 17, "labelColor": "#000000",
      "titleFont": "Liberation Sans", "titleFontSize": 18, "titleFontWeight": "bold", "titleColor": "#000000",
      "domainColor": "#000000", "domainWidth": 1.5, "tickColor": "#000000", "tickWidth": 1.5
    },
    "legend": {
      "title": null, "direction": "vertical",
      "strokeColor": "#000000", "strokeWidth": 1, "fillColor": "#ffffff", "cornerRadius": 0,
      "padding": 6, "rowPadding": 3,
      "labelFont": "Liberation Sans", "labelFontSize": 17, "labelColor": "#000000",
      "symbolSize": 100, "symbolStrokeWidth": 1, "symbolOffset": 15, "labelOffset": 16
    }
  }
}
